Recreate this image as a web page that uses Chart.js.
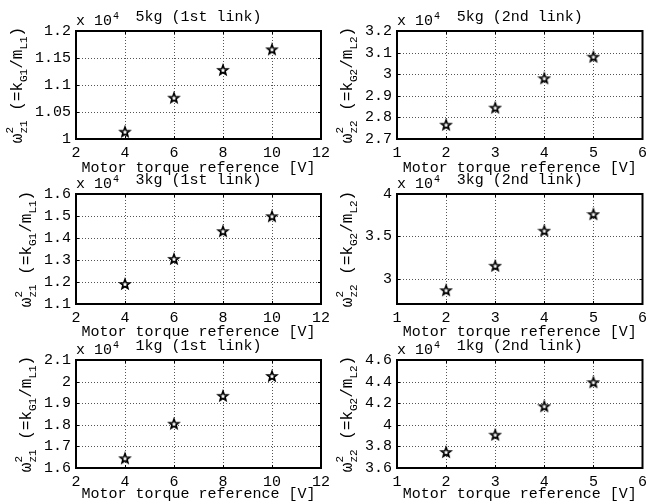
<!DOCTYPE html>
<html>
<head>
<meta charset="utf-8">
<script src="https://cdn.jsdelivr.net/npm/chart.js@4.4.1/dist/chart.umd.min.js"></script>
<style>
  body { margin: 0; background: #fff; }
  #page { position: relative; width: 652px; height: 502px; overflow: hidden; background: #fff; }
  .cell { position: absolute; }
</style>
</head>
<body>
<div id="page"></div>
<script>
// motor torque reference [V]
const xLink1 = [4, 6, 8, 10]
const xLink2 = [2, 3, 4, 5]

// omega_z^2 values
const wz1_5kg = [10135, 10765, 11280, 11660]
const wz2_5kg = [27660, 28450, 29810, 30810]
const wz1_3kg = [11910, 13050, 14310, 14990]
const wz2_3kg = [28630, 31520, 35660, 37620]
const wz1_1kg = [16450, 18050, 19340, 20260]
const wz2_1kg = [37480, 39080, 41720, 43940]

// tick labels
const xTicksLink1 = [2, 4, 6, 8, 10, 12]
const xTicksLink2 = [1, 2, 3, 4, 5, 6]
const yTicks5kg1 = [10000, 10500, 11000, 11500, 12000]
const yTicks5kg2 = [27000, 28000, 29000, 30000, 31000, 32000]
const yTicks3kg1 = [11000, 12000, 13000, 14000, 15000, 16000]
const yTicks3kg2 = [30000, 35000, 40000]
const yTicks1kg1 = [16000, 17000, 18000, 19000, 20000, 21000]
const yTicks1kg2 = [36000, 38000, 40000, 42000, 44000, 46000]

const titles = ['5kg (1st link)', '5kg (2nd link)', '3kg (1st link)', '3kg (2nd link)', '1kg (1st link)', '1kg (2nd link)']
const xTitle = 'Motor torque reference [V]'

const MONO = '"Liberation Mono", "DejaVu Sans Mono", monospace'
const SCALE = 1e4

// MATLAB-like pentagram marker
function makeStar() {
    const c = document.createElement('canvas')
    c.width = 14
    c.height = 14
    const g = c.getContext('2d')
    g.beginPath()
    for (let i = 0; i < 10; i++) {
        const r = i % 2 ? 2.1 : 5.0
        const a = -Math.PI / 2 + i * Math.PI / 5
        const px = 7 + r * Math.cos(a), py = 7.4 + r * Math.sin(a)
        i ? g.lineTo(px, py) : g.moveTo(px, py)
    }
    g.closePath()
    g.fillStyle = '#fff'
    g.fill()
    g.lineWidth = 1.6
    g.strokeStyle = '#000'
    g.stroke()
    return c
}
const star = makeStar()

const fmt = v => String(+(v / SCALE).toFixed(2))

// dotted grid, box with inward ticks, "x 10^4" and the y label with sub/superscripts
const decor = {
    id: 'decor',
    beforeDatasetsDraw(chart) {
        const { ctx, chartArea: a, scales } = chart
        const xs = scales.x.ticks.map(t => Math.round(scales.x.getPixelForValue(t.value)) + 0.5)
        const ys = scales.y.ticks.map(t => Math.round(scales.y.getPixelForValue(t.value)) + 0.5)
        ctx.save()
        ctx.strokeStyle = '#555'
        ctx.lineWidth = 1
        ctx.setLineDash([1, 2])
        xs.forEach(px => {
            ctx.beginPath()
            ctx.moveTo(px, a.top)
            ctx.lineTo(px, a.bottom)
            ctx.stroke()
        })
        ys.forEach(py => {
            ctx.beginPath()
            ctx.moveTo(a.left, py)
            ctx.lineTo(a.right, py)
            ctx.stroke()
        })
        ctx.setLineDash([])
        ctx.strokeStyle = '#000'
        const tk = 3
        ctx.beginPath()
        xs.forEach(px => {
            ctx.moveTo(px, a.bottom); ctx.lineTo(px, a.bottom - tk)
            ctx.moveTo(px, a.top); ctx.lineTo(px, a.top + tk)
        })
        ys.forEach(py => {
            ctx.moveTo(a.left, py); ctx.lineTo(a.left + tk, py)
            ctx.moveTo(a.right, py); ctx.lineTo(a.right - tk, py)
        })
        ctx.stroke()
        ctx.lineWidth = 2
        ctx.strokeRect(a.left, a.top, a.right - a.left, a.bottom - a.top)
        ctx.restore()
    },
    afterDraw(chart) {
        const { ctx, chartArea: a } = chart
        const link = chart.options.plugins.decor.link
        ctx.save()
        ctx.fillStyle = '#000'
        ctx.textBaseline = 'alphabetic'
        ctx.textAlign = 'left'

        // exponent
        ctx.font = '15px ' + MONO
        ctx.fillText('x 10', a.left, a.top - 6)
        const w10 = ctx.measureText('x 10').width
        ctx.font = '10px ' + MONO
        ctx.fillText('4', a.left + w10 + 1, a.top - 12)

        // y label position from the widest tick label
        ctx.font = '15px ' + MONO
        let maxW = 0
        chart.scales.y.ticks.forEach(t => { maxW = Math.max(maxW, ctx.measureText(t.label).width) })
        const bx = a.left - 5 - maxW - 13
        const cy = (a.top + a.bottom) / 2

        const parts = [
            { t: 'ω' },
            { sup: '2', sub: 'z' + link },
            { t: ' (=k' },
            { sub: 'G' + link },
            { t: '/m' },
            { sub: 'L' + link },
            { t: ')' }
        ]
        const main = '16px ' + MONO, small = '11px ' + MONO
        const widthOf = p => {
            if (p.t) { ctx.font = main; return ctx.measureText(p.t).width }
            ctx.font = small
            return Math.max(p.sup ? ctx.measureText(p.sup).width : 0, ctx.measureText(p.sub).width)
        }
        const total = parts.reduce((s, p) => s + widthOf(p), 0)
        ctx.translate(bx, cy)
        ctx.rotate(-Math.PI / 2)
        let x = -total / 2
        parts.forEach(p => {
            const w = widthOf(p)
            if (p.t) {
                ctx.font = main
                ctx.fillText(p.t, x, 0)
            } else {
                ctx.font = small
                if (p.sup) ctx.fillText(p.sup, x, -9)
                ctx.fillText(p.sub, x, 5)
            }
            x += w
        })
        ctx.restore()
    }
}

const cols = [{ x: 0, w: 335, padRight: 13 }, { x: 321, w: 331, padRight: 9 }]
const rows = [{ top: 0, h: 177, plotH: 108 }, { top: 163, h: 178, plotH: 110 }, { top: 329, h: 174, plotH: 108 }]

const panels = [
    { x: xLink1, y: wz1_5kg, xt: xTicksLink1, yt: yTicks5kg1, yMin: 10000, yMax: 12000, link: 1 },
    { x: xLink2, y: wz2_5kg, xt: xTicksLink2, yt: yTicks5kg2, yMin: 27000, yMax: 32000, link: 2 },
    { x: xLink1, y: wz1_3kg, xt: xTicksLink1, yt: yTicks3kg1, yMin: 11000, yMax: 16000, link: 1 },
    { x: xLink2, y: wz2_3kg, xt: xTicksLink2, yt: yTicks3kg2, yMin: 27000, yMax: 40000, link: 2 },
    { x: xLink1, y: wz1_1kg, xt: xTicksLink1, yt: yTicks1kg1, yMin: 16000, yMax: 21000, link: 1 },
    { x: xLink2, y: wz2_1kg, xt: xTicksLink2, yt: yTicks1kg2, yMin: 36000, yMax: 46000, link: 2 }
]

function makeChart(p, i) {
    const col = cols[i % 2], row = rows[Math.floor(i / 2)]
    const cell = document.createElement('div')
    cell.className = 'cell'
    cell.style.left = col.x + 'px'
    cell.style.top = row.top + 'px'
    const canvas = document.createElement('canvas')
    canvas.width = col.w
    canvas.height = row.h
    cell.appendChild(canvas)
    document.getElementById('page').appendChild(cell)

    const font = { family: MONO, size: 15, weight: 'normal' }
    const xHeight = row.h - 31 - row.plotH
    // grid itself is drawn dotted by the decor plugin
    const hiddenGrid = { display: true, drawTicks: false, color: 'rgba(0,0,0,0)' }

    return new Chart(canvas.getContext('2d'), {
        type: 'scatter',
        data: {
            datasets: [{
                data: p.x.map((v, k) => ({ x: v, y: p.y[k] })),
                pointStyle: star,
                showLine: false
            }]
        },
        options: {
            responsive: false,
            animation: false,
            events: [],
            layout: { padding: { left: 0, top: 0, right: col.padRight, bottom: 0 } },
            plugins: {
                legend: { display: false },
                tooltip: { enabled: false },
                title: {
                    display: true,
                    text: titles[i],
                    fullSize: false,
                    color: '#000',
                    font: font,
                    padding: { top: 8, bottom: 5 }
                },
                decor: { link: p.link }
            },
            scales: {
                x: {
                    type: 'linear',
                    min: p.xt[0],
                    max: p.xt[p.xt.length - 1],
                    afterBuildTicks: s => { s.ticks = p.xt.map(v => ({ value: v })) },
                    afterFit: s => { s.height = xHeight },
                    grid: hiddenGrid,
                    border: { display: false },
                    ticks: { color: '#000', font: font, padding: 5, maxRotation: 0, autoSkip: false },
                    title: { display: true, text: xTitle, color: '#000', font: font, padding: 0 }
                },
                y: {
                    min: p.yMin,
                    max: p.yMax,
                    afterBuildTicks: s => { s.ticks = p.yt.map(v => ({ value: v })) },
                    afterFit: s => { s.width = 76 },
                    grid: hiddenGrid,
                    border: { display: false },
                    ticks: { color: '#000', font: font, padding: 5, autoSkip: false, callback: v => fmt(v) }
                }
            }
        },
        plugins: [decor]
    })
}

panels.forEach(makeChart)
</script>
</body>
</html>
